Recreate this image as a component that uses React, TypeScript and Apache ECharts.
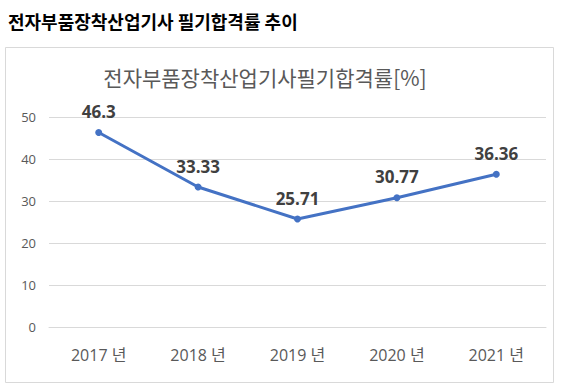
import React, { useEffect, useRef } from "react";
import * as echarts from "echarts";

const pageTitle = "전자부품장착산업기사 필기합격률 추이";
const chartTitle = "전자부품장착산업기사필기합격률[%]";
const categories = ["2017 년", "2018 년", "2019 년", "2020 년", "2021 년"];
const passRates = [46.3, 33.33, 25.71, 30.77, 36.36];

const FONT = "'Open Sans', 'Noto Sans CJK KR', sans-serif";

export default function App() {
  const ref = useRef<HTMLDivElement>(null);
  useEffect(() => {
    if (!ref.current) return;
    const chart = echarts.init(ref.current, null, { renderer: "svg" });
    chart.setOption({
      animation: false,
      backgroundColor: "#ffffff",
      textStyle: { fontFamily: FONT },
      graphic: [
        {
          type: "rect",
          shape: { x: 5.5, y: 47.5, width: 548, height: 335 },
          style: { fill: "none", stroke: "#d9d9d9", lineWidth: 1 },
          z: 0,
        },
        {
          type: "text",
          x: 8,
          y: 21,
          style: {
            text: pageTitle,
            fontFamily: "'Noto Sans CJK KR', sans-serif",
            fontSize: 18,
            fontWeight: "bold",
            fill: "#000000",
            verticalAlign: "middle",
          },
        },
      ],
      title: {
        text: chartTitle,
        left: 260,
        top: 61,
        textAlign: "center",
        textStyle: {
          fontFamily: "'Noto Sans CJK KR', sans-serif",
          fontSize: 21,
          fontWeight: "normal",
          color: "#595959",
        },
      },
      grid: { left: 49, right: 17, top: 117, bottom: 62 },
      xAxis: {
        type: "category",
        data: categories,
        axisLine: { show: true, lineStyle: { color: "#d9d9d9" } },
        axisTick: { show: false },
        axisLabel: { color: "#595959", fontSize: 16, margin: 20, fontFamily: FONT },
      },
      yAxis: {
        type: "value",
        min: 0,
        max: 50,
        interval: 10,
        axisLine: { show: false },
        axisTick: { show: false },
        splitLine: { lineStyle: { color: "#d9d9d9" } },
        axisLabel: { color: "#595959", fontSize: 13, margin: 13, fontFamily: FONT },
      },
      series: [
        {
          type: "line",
          data: passRates,
          lineStyle: { color: "#4472c4", width: 3 },
          itemStyle: { color: "#4472c4" },
          symbol: "circle",
          symbolSize: 7,
          label: {
            show: true,
            position: "top",
            distance: 9,
            color: "#404040",
            fontSize: 17,
            fontWeight: "bold",
            fontFamily: FONT,
          },
        },
      ],
    });
    return () => chart.dispose();
  }, []);
  return (
    <div
      ref={ref}
      style={{ position: "fixed", left: 0, top: 0, width: 563, height: 389 }}
    />
  );
}
